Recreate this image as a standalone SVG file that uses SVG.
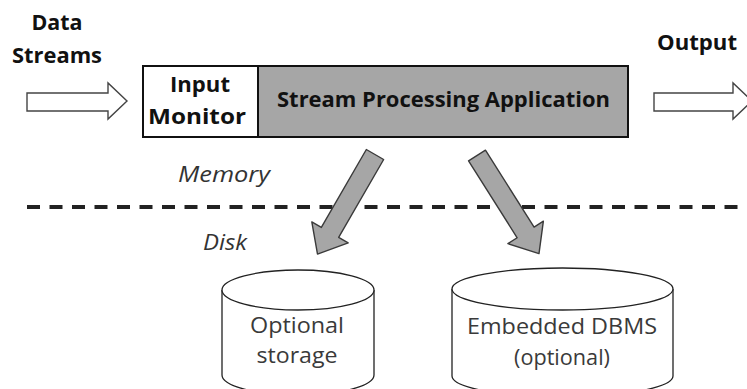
<svg xmlns="http://www.w3.org/2000/svg" width="747" height="389" viewBox="0 0 747 389">
<style>
.bold{font-family:"Open Sans","Noto Sans","Liberation Sans",sans-serif;font-weight:bold;font-size:21px;fill:#111}
.ital{font-family:"Open Sans","Noto Sans","Liberation Sans",sans-serif;font-style:italic;font-size:21px;fill:#333}
.reg{font-family:"Open Sans","Noto Sans","Liberation Sans",sans-serif;font-size:22px;fill:#3a3a3a}
.open{fill:#fff;stroke:#444;stroke-width:1.4}
.fat{fill:#a6a6a6;stroke:#3a3a3a;stroke-width:1.4;stroke-linejoin:round}
.cyl{fill:#fff;stroke:#222;stroke-width:1.3}
</style>
<rect width="747" height="389" fill="#fff"/>
<g id="labels">
<text class="bold" x="57" y="30" text-anchor="middle" textLength="51" lengthAdjust="spacingAndGlyphs">Data</text>
<text class="bold" x="57" y="63" text-anchor="middle" textLength="90" lengthAdjust="spacingAndGlyphs">Streams</text>
<text class="bold" x="697" y="50" text-anchor="middle" textLength="80" lengthAdjust="spacingAndGlyphs">Output</text>
<text class="ital" x="224" y="182" text-anchor="middle" textLength="92" lengthAdjust="spacingAndGlyphs">Memory</text>
<text class="ital" x="225" y="250" text-anchor="middle" textLength="44" lengthAdjust="spacingAndGlyphs">Disk</text>
</g>
<g id="input-monitor">
<rect x="143" y="66" width="115" height="71" fill="#fff" stroke="#111" stroke-width="2"/>
<text class="bold" x="200" y="92" text-anchor="middle" textLength="60" lengthAdjust="spacingAndGlyphs">Input</text>
<text class="bold" x="197" y="124" text-anchor="middle" textLength="98" lengthAdjust="spacingAndGlyphs">Monitor</text>
</g>
<g id="stream-processing">
<rect x="258" y="66" width="370" height="71" fill="#a6a6a6" stroke="#111" stroke-width="2"/>
<text class="bold" x="443.5" y="107" text-anchor="middle" textLength="333" lengthAdjust="spacingAndGlyphs">Stream Processing Application</text>
</g>
<g id="optional-storage">
<path class="cyl" d="M222,290 L222,375 A76,20 0 0 0 374,375 L374,290"/>
<ellipse class="cyl" cx="298" cy="290" rx="76" ry="20"/>
<text class="reg" x="297" y="333" text-anchor="middle" textLength="94" lengthAdjust="spacingAndGlyphs">Optional</text>
<text class="reg" x="297" y="363" text-anchor="middle" textLength="81" lengthAdjust="spacingAndGlyphs">storage</text>
</g>
<g id="embedded-dbms">
<path class="cyl" d="M452,289 L452,376 A110.5,21 0 0 0 673,376 L673,289"/>
<ellipse class="cyl" cx="562.5" cy="289" rx="110.5" ry="21"/>
<text class="reg" x="562" y="334" text-anchor="middle" textLength="190" lengthAdjust="spacingAndGlyphs">Embedded DBMS</text>
<text class="reg" x="562" y="365" text-anchor="middle" textLength="96" lengthAdjust="spacingAndGlyphs">(optional)</text>
</g>
<g id="connectors">
<line x1="27" y1="207" x2="740" y2="207" stroke="#222" stroke-width="4" stroke-dasharray="13 9.5"/>
<polygon class="open" points="27,93 108,93 108,83 127,101 108,119 108,111 27,111"/>
<polygon class="open" points="654,93 733,93 733,83 752,101 733,119 733,111 654,111"/>
<polygon class="fat" transform="translate(375,154.5) rotate(30)" points="-10,0 10,0 10,90 21,90 0,115 -21,90 -10,90"/>
<polygon class="fat" transform="translate(477,155.5) rotate(-32.3)" points="-10,0 10,0 10,91 21,91 0,116 -21,91 -10,91"/>
</g>
</svg>
